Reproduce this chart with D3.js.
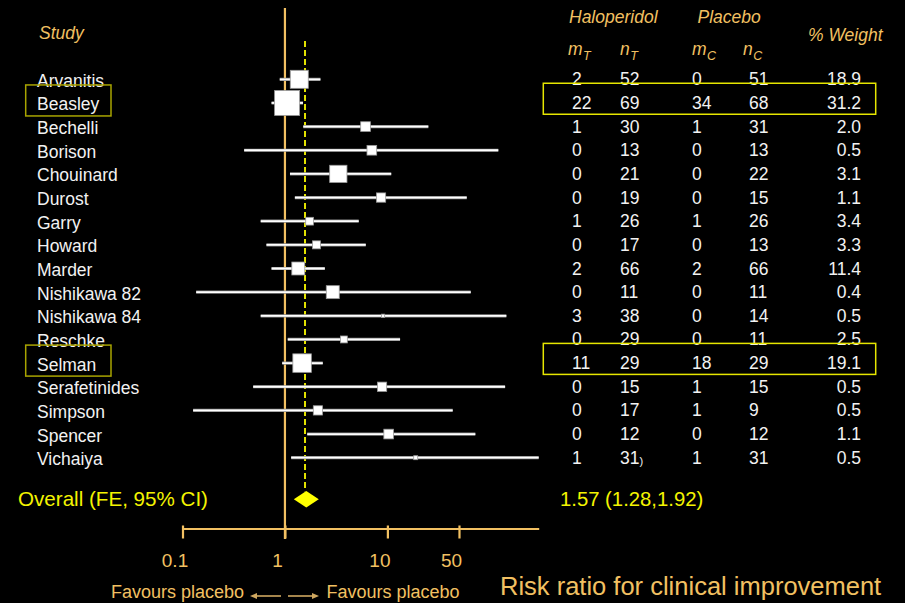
<!DOCTYPE html>
<html>
<head>
<meta charset="utf-8">
<script src="https://cdn.jsdelivr.net/npm/d3@7"></script>
<style>
  html, body { margin: 0; padding: 0; background: #000; }
  svg { display: block; }
  text { font-family: "Liberation Sans", Arial, sans-serif; }
</style>
</head>
<body>
<svg id="chart" width="905" height="603"></svg>
<script>
// ---------------- data ----------------
const studies = ["Arvanitis","Beasley","Bechelli","Borison","Chouinard","Durost","Garry","Howard","Marder",
  "Nishikawa 82","Nishikawa 84","Reschke","Selman","Serafetinides","Simpson","Spencer","Vichaiya"];
const riskRatio = [1.38, 1.05, 6.12, 7.05, 3.32, 8.67, 1.74, 2.03, 1.35, 2.93, 9.07, 3.76, 1.47, 8.87, 2.10, 10.3, 18.9];
const ciLow  = [0.89, 0.74, 1.51, 0.40, 1.12, 1.25, 0.58, 0.66, 0.74, 0.136, 0.58, 1.065, 0.94, 0.49, 0.127, 1.65, 1.15];
const ciHigh = [2.22, 1.50, 25.1, 121, 10.9, 59.5, 5.25, 6.15, 2.45, 65.1, 145, 13.3, 2.34, 141, 43.4, 72.2, 500];
const markerWeight = [16.2, 31.2, 4.7, 4.7, 14.9, 4.3, 3.0, 3.2, 8.4, 8.4, 0.54, 2.4, 17.1, 4.3, 4.3, 4.7, 0.8];
const mT = [2, 22, 1, 0, 0, 0, 1, 0, 2, 0, 3, 0, 11, 0, 0, 0, 1];
const nT = ["52","69","30","13","21","19","26","17","66","11","38","29","29","15","17","12","31"];
const mC = [0, 34, 1, 0, 0, 0, 1, 0, 2, 0, 0, 0, 18, 1, 1, 0, 1];
const nC = [51, 68, 31, 13, 22, 15, 26, 13, 66, 11, 14, 11, 29, 15, 9, 12, 31];
const pctWeight = ["18.9","31.2","2.0","0.5","3.1","1.1","3.4","3.3","11.4","0.4","0.5","2.5","19.1","0.5","0.5","1.1","0.5"];
const highlighted = ["Beasley", "Selman"];
const overallLabel = "Overall (FE, 95% CI)";
const overallRR = 1.57;
const overallCI = [1.28, 1.92];
const overallDiamond = [1.22, 2.14];   // extent of the diamond as drawn in the picture
const overallText = "1.57 (1.28,1.92)";
const tickValues = [0.1, 1, 10, 50];
const tickLabels = ["0.1", "1", "10", "50"];
const axisExtent = [0.1, 300];

// ---------------- styles ----------------
const ORANGE = "#f2c062";
const YELLOW = "#f4f400";
const WHITE = "#f2f2f2";

const svg = d3.select("#chart");
svg.append("rect").attr("width", 905).attr("height", 603).attr("fill", "#000");

const x = d3.scaleLog().domain(axisExtent).range([182.5, 538.7]).clamp(true);
const y = d3.scalePoint().domain(studies).range([79.3, 457.7]);
const boxSize = d3.scaleSqrt().domain([0, d3.max(markerWeight)]).range([0, 25]);
const overallY = 499.3;
const axisY = 528.5;

const rows = studies.map((s, i) => ({
  study: s, rr: riskRatio[i], lo: ciLow[i], hi: ciHigh[i], w: markerWeight[i],
  mT: mT[i], nT: nT[i], mC: mC[i], nC: nC[i], pct: pctWeight[i]
}));

// headers
const hdr = svg.append("g").attr("fill", ORANGE).attr("font-style", "italic").attr("font-size", 17.5);
hdr.append("text").attr("x", 39).attr("y", 39).text("Study");
hdr.append("text").attr("x", 569).attr("y", 23).text("Haloperidol");
hdr.append("text").attr("x", 697.5).attr("y", 23).text("Placebo");
hdr.append("text").attr("x", 808).attr("y", 41).text("% Weight");
const subHdr = [["m","T",568],["n","T",620],["m","C",692],["n","C",743]];
subHdr.forEach(([a, b, px]) => {
  const t = hdr.append("text").attr("x", px).attr("y", 55);
  t.append("tspan").text(a);
  t.append("tspan").attr("font-size", 12.5).attr("dy", 5).attr("dx", 0.5).text(b);
});

// null line (RR = 1)
svg.append("line")
  .attr("x1", x(1)).attr("x2", x(1)).attr("y1", 8).attr("y2", axisY + 10.5)
  .attr("stroke", ORANGE).attr("stroke-width", 2.2);

// pooled estimate dashed line
svg.append("line")
  .attr("x1", x(overallRR)).attr("x2", x(overallRR)).attr("y1", 41).attr("y2", overallY - 8)
  .attr("stroke", "#e2e200").attr("stroke-width", 2).attr("stroke-dasharray", "6,3");

// CI lines
const ci = svg.append("g");
ci.selectAll("line.edge").data(rows).join("line")
  .attr("class", "edge")
  .attr("x1", d => x(d.lo)).attr("x2", d => x(d.hi))
  .attr("y1", d => y(d.study)).attr("y2", d => y(d.study))
  .attr("stroke", "#8a8a8a").attr("stroke-width", 3.2);
ci.selectAll("line.core").data(rows).join("line")
  .attr("class", "core")
  .attr("x1", d => x(d.lo)).attr("x2", d => x(d.hi))
  .attr("y1", d => y(d.study)).attr("y2", d => y(d.study))
  .attr("stroke", "#ffffff").attr("stroke-width", 1.8);

// boxes
svg.append("g").selectAll("rect").data(rows).join("rect")
  .attr("x", d => x(d.rr) - boxSize(d.w) / 2)
  .attr("y", d => y(d.study) - boxSize(d.w) / 2)
  .attr("width", d => boxSize(d.w)).attr("height", d => boxSize(d.w))
  .attr("fill", "#ffffff").attr("stroke", "#9a9a9a").attr("stroke-width", 0.8);

// study names
svg.append("g").attr("fill", WHITE).attr("font-size", 17.5)
  .selectAll("text").data(rows).join("text")
  .attr("x", 37).attr("y", d => y(d.study) + 7.5).text(d => d.study);

// table
const tbl = svg.append("g").attr("fill", WHITE).attr("font-size", 17.5);
const cols = [
  {key: "mT", x: 572, anchor: "start"},
  {key: "nT", x: 620, anchor: "start"},
  {key: "mC", x: 692, anchor: "start"},
  {key: "nC", x: 749, anchor: "start"},
  {key: "pct", x: 861, anchor: "end"}
];
cols.forEach(c => {
  tbl.append("g").selectAll("text").data(rows).join("text")
    .attr("x", c.x).attr("y", d => y(d.study) + 6)
    .attr("text-anchor", c.anchor)
    .each(function(d) {
      const t = d3.select(this);
      t.append("tspan").text(d[c.key]);
      if (c.key === "nT" && d.study === "Vichaiya") {
        t.append("tspan").attr("font-size", 11).attr("dy", 1).text(")");
      }
    });
});

// highlight boxes
const hl = svg.append("g").attr("fill", "none");
highlighted.forEach(s => {
  hl.append("rect").attr("x", 25.7).attr("y", y(s) - 18).attr("width", 85.3).attr("height", 31)
    .attr("stroke", "#a8a400").attr("stroke-width", 1.5);
  hl.append("rect").attr("x", 543.3).attr("y", y(s) - 19.7).attr("width", 332.4).attr("height", 31)
    .attr("stroke", "#e6e600").attr("stroke-width", 1.5);
});

// overall
svg.append("text").attr("x", 18).attr("y", overallY + 7).attr("fill", YELLOW).attr("font-size", 20.6)
  .text(overallLabel);
svg.append("text").attr("x", 560).attr("y", overallY + 7).attr("fill", YELLOW).attr("font-size", 20.3)
  .text(overallText);
const dx0 = x(overallDiamond[0]), dx1 = x(overallDiamond[1]), dxc = (dx0 + dx1) / 2;
svg.append("path")
  .attr("d", `M${dx0},${overallY} L${dxc},${overallY - 8.3} L${dx1},${overallY} L${dxc},${overallY + 8.3} Z`)
  .attr("fill", "#ffff00");

// axis
const axis = d3.axisBottom(x).tickValues(tickValues).tickSize(10).tickSizeOuter(0)
  .tickFormat((d, i) => tickLabels[i]);
const ax = svg.append("g").attr("transform", `translate(0,${axisY})`).call(axis);
ax.select(".domain").attr("stroke", ORANGE).attr("stroke-width", 2.2);
ax.selectAll(".tick line").attr("stroke", ORANGE).attr("stroke-width", 2.2).attr("y1", -3);
ax.selectAll(".tick text").attr("fill", ORANGE).attr("font-size", 19)
  .attr("font-family", "Liberation Sans, Arial, sans-serif")
  .attr("dy", 0).attr("y", 38).attr("dx", -8);

// favours labels and arrows
const fav = svg.append("g").attr("fill", ORANGE).attr("font-size", 18);
fav.append("text").attr("x", 111).attr("y", 598).text("Favours placebo");
fav.append("text").attr("x", 326.5).attr("y", 598).text("Favours placebo");
const arrowY = 596;
const arr = svg.append("g").attr("stroke", "#d0a860").attr("stroke-width", 1.6).attr("fill", "#d0a860");
arr.append("line").attr("x1", 253).attr("x2", 281).attr("y1", arrowY).attr("y2", arrowY);
arr.append("path").attr("d", `M250,${arrowY} L257,${arrowY - 3} L257,${arrowY + 3} Z`).attr("stroke", "none");
arr.append("line").attr("x1", 288).attr("x2", 316).attr("y1", arrowY).attr("y2", arrowY);
arr.append("path").attr("d", `M319,${arrowY} L312,${arrowY - 3} L312,${arrowY + 3} Z`).attr("stroke", "none");

svg.append("text").attr("x", 500).attr("y", 594.5).attr("fill", ORANGE).attr("font-size", 25.5)
  .text("Risk ratio for clinical improvement");
</script>
</body>
</html>
